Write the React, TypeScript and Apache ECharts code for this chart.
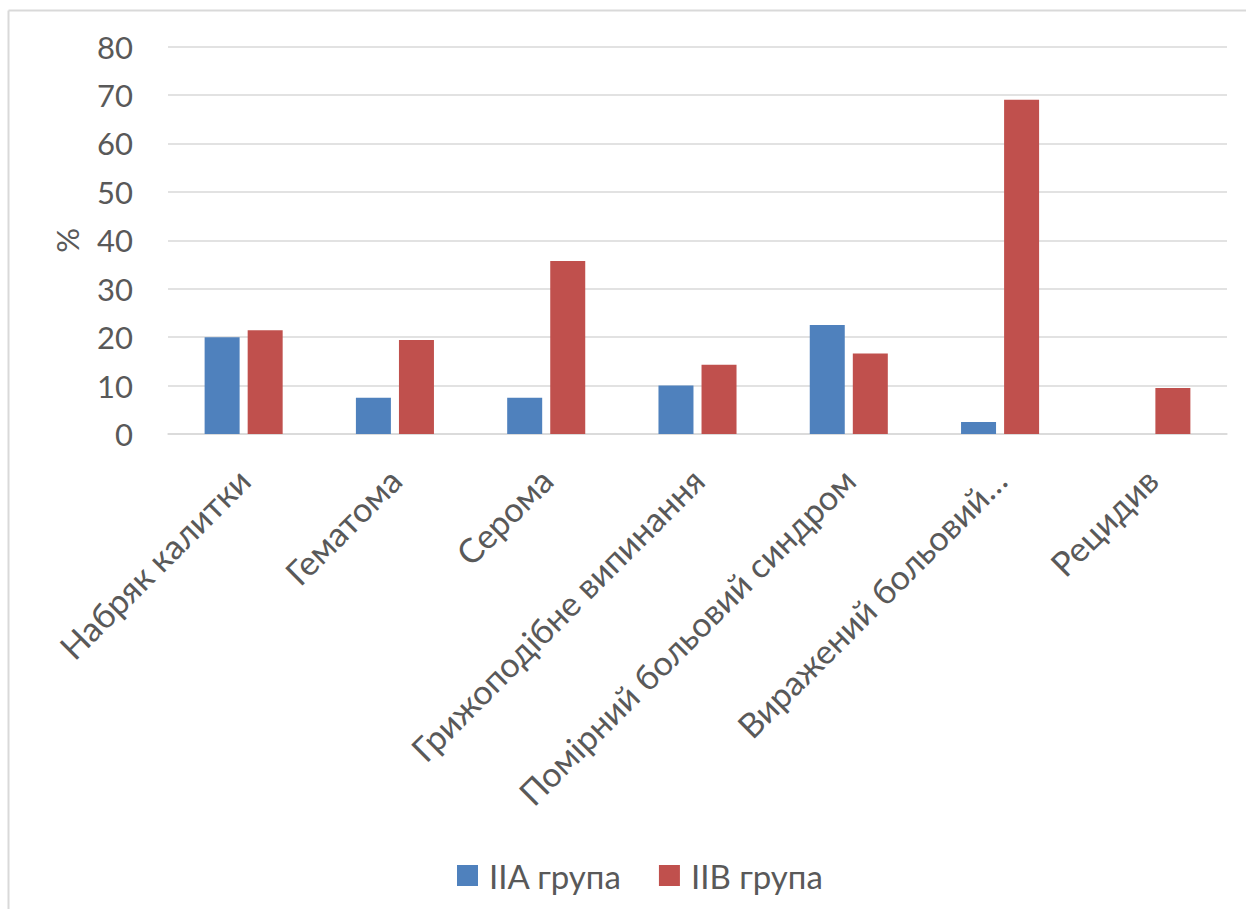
import React, { useEffect, useRef } from "react";
import * as echarts from "echarts";

// Complication categories (x axis)
const categories: string[] = [
  "Набряк калитки",
  "Гематома",
  "Серома",
  "Грижоподібне випинання",
  "Помірний больовий синдром",
  "Виражений больовий…",
  "Рецидив",
];

// Share of patients, %
const groupIIA: number[] = [20, 7.5, 7.5, 10, 22.5, 2.5, 0];
const groupIIB: number[] = [21.4, 19.4, 35.7, 14.3, 16.6, 69, 9.5];

const seriesNames: string[] = ["IIA група", "IIB група"];

// Value axis ticks
const yMin = 0;
const yMax = 80;
const yStep = 10;

const FONT = "Lato, 'Open Sans', 'Noto Sans', sans-serif";
const TEXT_COLOR = "#595959";
const GRID_COLOR = "#d9d9d9";

export default function App() {
  const ref = useRef<HTMLDivElement>(null);

  useEffect(() => {
    if (!ref.current) return;
    const chart = echarts.init(ref.current, undefined, { renderer: "svg" });
    chart.setOption({
      animation: false,
      backgroundColor: "#ffffff",
      textStyle: { fontFamily: FONT },
      color: ["#4f81bd", "#c0504d"],
      grid: { left: 168, right: 19, top: 46.5, bottom: 475, containLabel: false },
      legend: {
        data: seriesNames,
        left: 457,
        top: 859,
        padding: 0,
        itemGap: 37,
        itemWidth: 21,
        itemHeight: 21,
        icon: "rect",
        textStyle: {
          fontFamily: FONT,
          fontSize: 33,
          color: TEXT_COLOR,
          padding: [0, 0, 0, 6],
        },
      },
      xAxis: {
        type: "category",
        data: categories,
        axisLine: { show: true, lineStyle: { color: GRID_COLOR, width: 1.5 } },
        axisTick: { show: false },
        axisLabel: {
          interval: 0,
          rotate: 45,
          margin: 40,
          align: "right",
          verticalAlign: "middle",
          fontFamily: FONT,
          fontSize: 34,
          color: TEXT_COLOR,
        },
      },
      yAxis: {
        type: "value",
        min: yMin,
        max: yMax,
        interval: yStep,
        name: "%",
        nameLocation: "middle",
        nameGap: 86,
        nameTextStyle: { fontFamily: FONT, fontSize: 31, color: TEXT_COLOR },
        axisLine: { show: false },
        axisTick: { show: false },
        axisLabel: {
          margin: 35,
          fontFamily: FONT,
          fontSize: 31,
          color: TEXT_COLOR,
          padding: [5, 0, 0, 0],
        },
        splitLine: { lineStyle: { color: GRID_COLOR, width: 1.5 } },
      },
      series: [
        {
          name: seriesNames[0],
          type: "bar",
          data: groupIIA,
          barWidth: 35,
          barGap: "23%",
        },
        {
          name: seriesNames[1],
          type: "bar",
          data: groupIIB,
          barWidth: 35,
          barGap: "23%",
        },
      ],
      graphic: [
        {
          type: "line",
          shape: { x1: 8.5, y1: 10.5, x2: 1246, y2: 10.5 },
          style: { stroke: GRID_COLOR, lineWidth: 2 },
          silent: true,
        },
        {
          type: "line",
          shape: { x1: 8.5, y1: 10.5, x2: 8.5, y2: 909 },
          style: { stroke: GRID_COLOR, lineWidth: 2 },
          silent: true,
        },
      ],
    });
    return () => chart.dispose();
  }, []);

  return (
    <div
      ref={ref}
      style={{ position: "fixed", left: 0, top: 0, width: 1246, height: 909, background: "#fff" }}
    />
  );
}
